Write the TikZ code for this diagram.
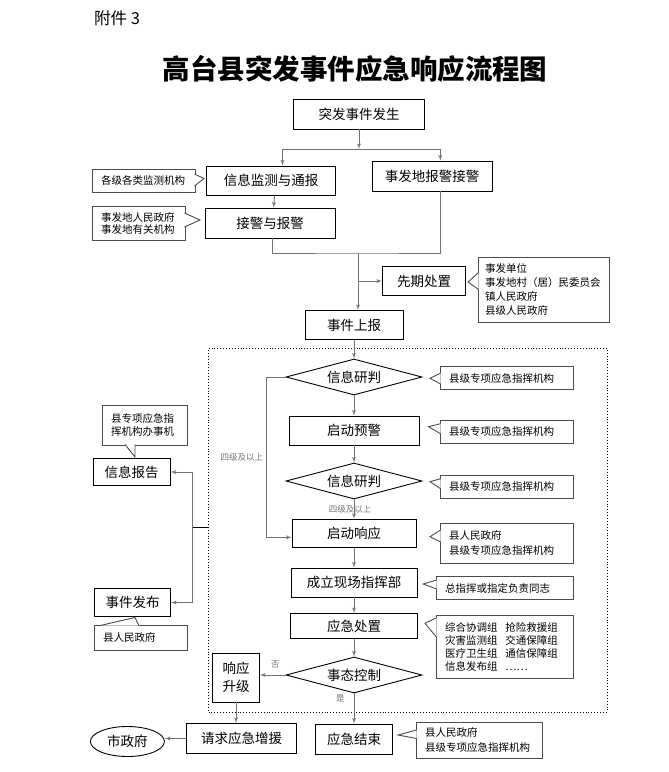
\documentclass[tikz,border=0pt]{standalone}
\usepackage{fontspec}
\setmainfont{Noto Sans CJK SC}
\usetikzlibrary{shapes,arrows}
\tikzstyle{block} = [rectangle, draw, align=center, inner sep=2pt,
    font=\fontsize{13.5}{18}\selectfont]
\tikzstyle{decision} = [diamond, draw, aspect=3.78, inner sep=0pt,
    minimum width=136pt, minimum height=36pt, font=\fontsize{13.5}{15}\selectfont]
\tikzstyle{terminal} = [ellipse, draw, font=\fontsize{13.5}{15}\selectfont]
\tikzstyle{note} = [rectangle, draw=black!70, align=left, inner xsep=9pt, inner ysep=3pt,
    font=\fontsize{10.5}{14}\selectfont]
\tikzstyle{lbl} = [inner sep=1pt, font=\fontsize{8.5}{9}\selectfont]
\tikzstyle{line} = [draw, black!55, -latex']
% pointer of a note: base point, tip, base point
\newcommand{\notetail}[3]{\fill [white] #1 -- #2 -- #3 -- cycle;
    \draw [black!70] #1 -- #2 -- #3;}

\begin{document}
\begin{tikzpicture}[x=1pt, y=-1pt, line width=0.9pt]
\useasboundingbox (0,0) rectangle (669,772);

    % Place nodes
    \node [font=\fontsize{16.5}{18}\selectfont] (annex) at (117,18) {附件 3};
    \node [font=\fontsize{27.5}{30}\selectfont\bfseries] (title) at (355,69) {高台县突发事件应急响应流程图};

    \node [block, minimum width=131pt, minimum height=30pt] (occur) at (359,114) {突发事件发生};
    \node [block, minimum width=129pt, minimum height=29pt] (monitor) at (271,180.5) {信息监测与通报};
    \node [block, minimum width=120pt, minimum height=30pt] (alarm) at (432,176) {事发地报警接警};
    \node [block, minimum width=130pt, minimum height=30pt] (receive) at (270,223) {接警与报警};
    \node [block, minimum width=83pt, minimum height=29pt] (early) at (424,281) {先期处置};
    \node [block, minimum width=98pt, minimum height=29pt] (report) at (354,325) {事件上报};

    \node [draw, dotted, minimum width=398.5pt, minimum height=364pt, inner sep=0pt] (frame) at (407.75,530) {};

    \node [decision] (judge1) at (354,377) {信息研判};
    \node [block, minimum width=130pt, minimum height=29pt] (warn) at (354,430.5) {启动预警};
    \node [decision] (judge2) at (354,481) {信息研判};
    \node [block, minimum width=124pt, minimum height=28pt] (respond) at (354,533.3) {启动响应};
    \node [block, minimum width=126pt, minimum height=29pt] (command) at (354,582.5) {成立现场指挥部};
    \node [block, minimum width=127pt, minimum height=25pt] (handle) at (354,626) {应急处置};
    \node [decision] (control) at (354,675) {事态控制};
    \node [block, minimum width=47pt, minimum height=49pt] (upgrade) at (236,677.5) {响应\\升级};
    \node [block, minimum width=77.5pt, minimum height=30pt] (finish) at (354,739) {应急结束};
    \node [block, minimum width=109.5pt, minimum height=30pt] (request) at (241.5,738.5) {请求应急增援};
    \node [terminal, minimum width=74pt, minimum height=30pt] (city) at (127.4,741.5) {市政府};
    \node [block, minimum width=77pt, minimum height=27pt] (inform) at (131.7,472) {信息报告};
    \node [block, minimum width=76pt, minimum height=28pt] (publish) at (132.5,602.5) {事件发布};

    % Notes
    \node [note, text width=85pt, minimum height=23pt] (n1) at (143.5,180.5) {各级各类监测机构};
    \node [note, text width=75pt, minimum height=34pt, font=\fontsize{10.5}{12.5}\selectfont] (n2) at (138.5,223.5) {事发地人民政府\\事发地有关机构};
    \node [note, text width=117pt, inner xsep=7pt, minimum height=65pt] (n3) at (543.5,289.5) {事发单位\\事发地村（居）民委员会\\镇人民政府\\县级人民政府};
    \node [note, text width=115pt, minimum height=23pt] (n4) at (506.5,378) {县级专项应急指挥机构};
    \node [note, text width=115pt, minimum height=23pt] (n5) at (506.5,431.7) {县级专项应急指挥机构};
    \node [note, text width=115pt, minimum height=23pt] (n6) at (506.5,486.7) {县级专项应急指挥机构};
    \node [note, text width=115pt, minimum height=40pt, font=\fontsize{10.5}{15.5}\selectfont] (n7) at (506.5,543) {县人民政府\\县级专项应急指挥机构};
    \node [note, text width=119pt, minimum height=23pt] (n8) at (504.5,588) {总指挥或指定负责同志};
    \node [note, text width=119pt, minimum height=63pt, font=\fontsize{10.5}{13}\selectfont] (n9) at (504.5,646.7) {综合协调组\hspace{8pt}抢险救援组\\灾害监测组\hspace{8pt}交通保障组\\医疗卫生组\hspace{8pt}通信保障组\\信息发布组\hspace{8pt}……};
    \node [note, text width=108pt, minimum height=36pt, font=\fontsize{10.5}{15}\selectfont] (n10) at (479,740) {县人民政府\\县级专项应急指挥机构};
    \node [note, text width=67pt, minimum height=40pt, font=\fontsize{10.5}{13}\selectfont] (n11) at (144.5,425) {县专项应急指\\挥机构办事机};
    \node [note, text width=75pt, minimum height=25pt] (n12) at (140.5,637.5) {县人民政府};

    \notetail{([xshift=-1pt, yshift=6.5pt]n1.east)}{(204,178.5)}{([xshift=-1pt, yshift=-5.5pt]n1.east)}
    \notetail{([xshift=-1pt, yshift=10.5pt]n2.east)}{(200,220)}{([xshift=-1pt, yshift=-3.5pt]n2.east)}
    \notetail{([xshift=1pt, yshift=17pt]n3.west)}{(468,282)}{([xshift=1pt]n3.west)}
    \notetail{([xshift=1pt, yshift=5pt]n4.west)}{(430,378.3)}{([xshift=1pt, yshift=-6pt]n4.west)}
    \notetail{([xshift=1pt, yshift=8pt]n5.west)}{(428.5,426.7)}{([xshift=1pt, yshift=-2pt]n5.west)}
    \notetail{([xshift=1pt, yshift=8pt]n6.west)}{(430,481.7)}{([xshift=1pt, yshift=-2pt]n6.west)}
    \notetail{([xshift=1pt, yshift=13pt]n7.west)}{(430,536.7)}{([xshift=1pt, yshift=1pt]n7.west)}
    \notetail{([xshift=1pt, yshift=8pt]n8.west)}{(423.3,584)}{([xshift=1pt, yshift=-1pt]n8.west)}
    \notetail{([xshift=1pt, yshift=29pt]n9.west)}{(425,623.3)}{([xshift=1pt, yshift=9.5pt]n9.west)}
    \notetail{([xshift=1pt, yshift=10pt]n10.west)}{(398,735)}{([xshift=1pt, yshift=1.5pt]n10.west)}
    \notetail{([xshift=-19.5pt, yshift=1pt]n11.south)}{(135,457)}{([xshift=-9.5pt, yshift=1pt]n11.south)}
    \notetail{([xshift=-40.5pt, yshift=-1pt]n12.north)}{(135,617.5)}{([xshift=-1.5pt, yshift=-1pt]n12.north)}

    % Draw edges
    \coordinate (split) at (359,149);
    \coordinate (join) at (358,253);
    \coordinate (branch) at (358,281);
    \coordinate (hub) at (192.7,527.3);

    \path [line] (occur) -- (split);
    \path [line] (split) -| ([xshift=11.5pt]monitor.north);
    \path [line] (split) -| ([xshift=8.3pt]alarm.north);
    \path [line] ([xshift=3.6pt]monitor.south) -- ([xshift=3.6pt]receive.north);
    \draw [black!55] ([xshift=2pt]receive.south) |- (join) -| ([xshift=8.3pt]alarm.south);
    \path [line] (join) -- (join |- report.north);
    \path [line] (branch) -- (early);
    \path [line] (report) -- (judge1);
    \path [line] (judge1) -- (warn);
    \path [line] (warn) -- (judge2);
    \path [line] (judge2) -- node [lbl, xshift=-4pt] {四级及以上} (respond);
    \path [line] (judge1.west) -- ++(-19,0) |- node [lbl, near start, left=2pt] {四级及以上} ([yshift=-4pt]respond.west);
    \path [line] (respond) -- (command);
    \path [line] (command) -- (handle);
    \path [line] (handle) -- (control);
    \path [line] (control) -- node [lbl, pos=0.4, above=5pt] {否} (control.west -| upgrade.east);
    \path [line] (control) -- node [lbl, pos=0.15, left=8pt] {是} (finish);
    \path [line] (upgrade) -- (upgrade |- request.north);
    \path [line] (request) -- (request.west -| city.east);
    \draw (frame.west |- hub) -- (hub);
    \path [line] (hub) |- (inform);
    \path [line] (hub) |- (publish);

\end{tikzpicture}
\end{document}
